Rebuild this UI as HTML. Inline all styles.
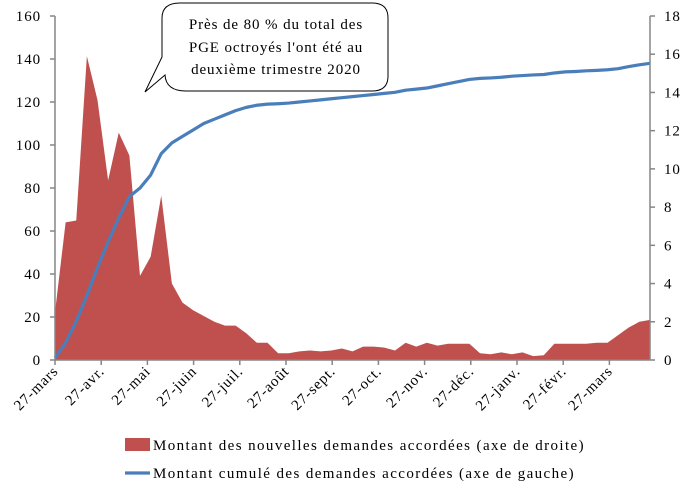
<!DOCTYPE html>
<html><head><meta charset="utf-8"><style>
body{margin:0;background:#fff}
svg text{font-family:"Liberation Serif",serif;fill:#000;font-size:15px;letter-spacing:0.9px}
svg text.lg{letter-spacing:1.4px}
</style></head><body>
<svg id="c" width="690" height="494" xmlns="http://www.w3.org/2000/svg"></svg>
<script>
const months=["27-mars","27-avr.","27-mai","27-juin","27-juil.","27-août","27-sept.","27-oct.","27-nov.","27-déc.","27-janv.","27-févr.","27-mars"];
const leftTicks=[0,20,40,60,80,100,120,140,160];
const rightTicks=[0,2,4,6,8,10,12,14,16,18];
const weeklyNew=[2.5,7.2,7.3,15.9,13.6,9.4,11.9,10.7,4.4,5.4,8.6,4.0,3.0,2.6,2.3,2.0,1.8,1.8,1.4,0.9,0.9,0.35,0.35,0.45,0.5,0.45,0.5,0.6,0.45,0.7,0.7,0.65,0.5,0.9,0.7,0.9,0.75,0.85,0.85,0.85,0.35,0.3,0.4,0.3,0.4,0.2,0.25,0.85,0.85,0.85,0.85,0.9,0.9,1.3,1.7,2.0,2.1];
const cumulative=[1,8,18,30,43,55,66,76,80,86,96,101,104,107,110,112,114,116,117.5,118.5,119,119.2,119.5,120,120.5,121,121.5,122,122.5,123,123.5,124,124.5,125.5,126,126.5,127.5,128.5,129.5,130.5,131,131.2,131.5,132,132.3,132.6,132.8,133.5,134,134.2,134.5,134.7,135,135.5,136.5,137.3,138];
const X0=55,X1=650,Y0=360,Y1=16;
const xW=i=>X0+i*(X1-X0)/(weeklyNew.length-1);
const xM=m=>X0+m*46.2;
const yL=v=>Y0-v*(Y0-Y1)/160;
const yR=v=>Y0-v*(Y0-Y1)/18;
const svg=document.getElementById('c');
const NS='http://www.w3.org/2000/svg';
function mk(t,a,p){const e=document.createElementNS(NS,t);for(const k in a)e.setAttribute(k,a[k]);(p||svg).appendChild(e);return e;}
let d=`M${X0},${Y0}`;weeklyNew.forEach((v,i)=>d+=` L${xW(i)},${yR(v)}`);d+=` L${X1},${Y0} Z`;
const area=mk('path',{d:d,fill:'#c0504d'});


let l='';cumulative.forEach((v,i)=>l+=(i?' L':'M')+xW(i)+','+yL(v));
const line=mk('path',{d:l,fill:'none',stroke:'#4a7ebb','stroke-width':3.2,'stroke-linejoin':'round'});


mk('line',{x1:X0,y1:Y1,x2:X0,y2:Y0,stroke:'#868686','stroke-width':1.5});
mk('line',{x1:X1,y1:Y1,x2:X1,y2:Y0,stroke:'#868686','stroke-width':1.5});
mk('line',{x1:X0,y1:Y0,x2:X1,y2:Y0,stroke:'#868686','stroke-width':1.5});
leftTicks.forEach(v=>{mk('line',{x1:X0-5,y1:yL(v),x2:X0,y2:yL(v),stroke:'#868686','stroke-width':1.5});
 const t=mk('text',{x:41,y:yL(v)+5,'text-anchor':'end'});t.textContent=v;
 
 });
rightTicks.forEach(v=>{mk('line',{x1:X1,y1:yR(v),x2:X1+5,y2:yR(v),stroke:'#868686','stroke-width':1.5});
 const t=mk('text',{x:664,y:yR(v)+5});t.textContent=v;
 
 });
months.forEach((m,i)=>{const x=xM(i);mk('line',{x1:x,y1:Y0,x2:x,y2:Y0+5,stroke:'#868686','stroke-width':1.5});
 const t=mk('text',{x:x+4,y:Y0+12,'text-anchor':'end',transform:`rotate(-45 ${x+4} ${Y0+12})`});t.textContent=m;
 
 });
</script>
<svg style="position:absolute;left:0;top:0" width="690" height="494">
<g>
<path d="M180,3 H372 Q388,3 388,18 V76 Q388,91 372,91 H186 Q166,91 165,75 L145,92 L162,57 V18 Q162,3 180,3 Z" fill="#fff" stroke="#000" stroke-width="1"/>
<text x="276" y="29" text-anchor="middle">Près de 80 % du total des</text>
<text x="276" y="52" text-anchor="middle">PGE octroyés l'ont été au</text>
<text x="276" y="74" text-anchor="middle">deuxième trimestre 2020</text>
</g>
<g>
<rect x="125" y="438" width="25" height="13" fill="#c0504d"/>
<text class="lg" x="153" y="450">Montant des nouvelles demandes accordées (axe de droite)</text>
<line x1="125" y1="473" x2="150" y2="473" stroke="#4a7ebb" stroke-width="3.2"/>
<text class="lg" x="153" y="478">Montant cumulé des demandes accordées (axe de gauche)</text>
</g>
</svg>
</body></html>
